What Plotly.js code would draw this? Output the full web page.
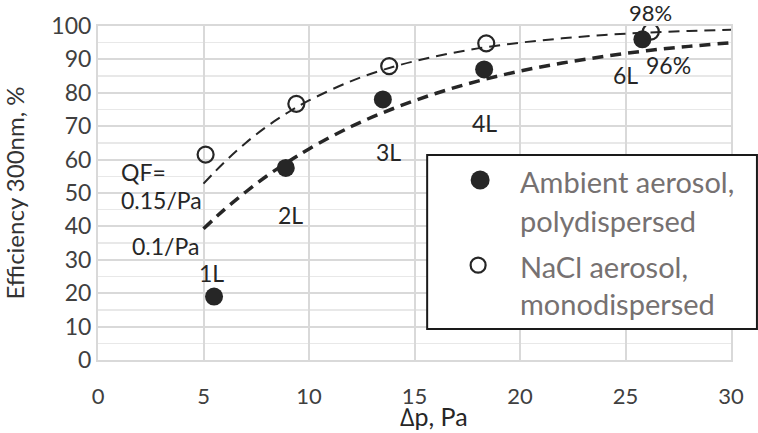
<!DOCTYPE html>
<html>
<head>
<meta charset="utf-8">
<script src="https://cdn.plot.ly/plotly-3.0.1.min.js"></script>
<style>html,body{margin:0;padding:0;background:#fff;}#chart{width:758px;height:433px;}</style>
</head>
<body>
<div id="chart"></div>
<script>
// Measured points
const ambientDp = [5.5, 8.9, 13.5, 18.3, 25.8];
const ambientEff = [19, 57.5, 78, 87, 96];
const ambientLabels = ["1L", "2L", "3L", "4L", "6L"];
const naclDp = [5.1, 9.4, 13.8, 18.4, 26.2];
const naclEff = [61.5, 76.7, 88, 94.8, 98.3];
// QF guide curves
const curveDp = [5, 6, 7, 8, 9, 10, 12, 14, 16, 18, 20, 22, 24, 26, 28, 30];
const curveQF015 = [52.8, 59.3, 65.0, 69.9, 74.1, 77.7, 83.5, 87.8, 90.9, 93.3, 95.0, 96.3, 97.3, 98.0, 98.5, 98.9];
const curveQF010 = [39.3, 45.1, 50.3, 55.1, 59.3, 63.2, 69.9, 75.3, 79.8, 83.5, 86.5, 88.9, 90.9, 92.6, 93.9, 95.0];
const xTicks = [0, 5, 10, 15, 20, 25, 30];
const yTicks = [0, 10, 20, 30, 40, 50, 60, 70, 80, 90, 100];
const legendNames = ["Ambient aerosol,", "polydispersed", "NaCl aerosol,", "monodispersed"];

const FONT = "Lato, 'Open Sans', sans-serif";
const INK = "#262626";

const traces = [
  {x: curveDp, y: curveQF015, mode: "lines", line: {color: INK, width: 2, dash: "11px,7px", shape: "spline"}, showlegend: false, hoverinfo: "skip"},
  {x: curveDp, y: curveQF010, mode: "lines", line: {color: INK, width: 3.5, dash: "11px,7px", shape: "spline"}, showlegend: false, hoverinfo: "skip"},
  {x: ambientDp, y: ambientEff, mode: "markers", name: "Ambient aerosol, polydispersed", marker: {symbol: "circle", size: 18, color: INK}, showlegend: false},
  {x: naclDp, y: naclEff, mode: "markers", name: "NaCl aerosol, monodispersed", marker: {symbol: "circle-open", size: 16, color: INK, line: {width: 2.2, color: INK}}, showlegend: false}
];

const lab = (x, y, t, extra) => Object.assign({x: x, y: y, xref: "x", yref: "y", text: t, showarrow: false, yanchor: "middle", font: {family: FONT, size: 23, color: INK}}, extra || {});

const annotations = [
  lab(1.0, 56.3, "QF=", {xanchor: "left"}),
  lab(1.0, 47.9, "0.15/Pa", {xanchor: "left"}),
  lab(1.5, 34.1, "0.1/Pa", {xanchor: "left"}),
  lab(5.39, 26.0, ambientLabels[0]),
  lab(9.12, 43.4, ambientLabels[1]),
  lab(13.76, 62.3, ambientLabels[2]),
  lab(18.3, 71.0, ambientLabels[3]),
  lab(24.98, 85.3, ambientLabels[4]),
  lab(27.06, 88.3, Math.round(ambientEff[4]) + "%"),
  {x: naclDp[4], y: 1.04, xref: "x", yref: "paper", yanchor: "middle", text: Math.round(naclEff[4]) + "%", showarrow: false, font: {family: FONT, size: 22, color: INK}},
  {x: 0.531, y: -0.168, xref: "paper", yref: "paper", yanchor: "middle", xanchor: "center", borderpad: 0, text: "\u2206p, Pa", showarrow: false, font: {family: FONT, size: 25, color: INK}},
];
const legY = [0.533, 0.419, 0.281, 0.168];
legendNames.forEach((t, i) => annotations.push({x: 0.663, y: legY[i], xref: "paper", yref: "paper", xanchor: "left", yanchor: "middle", text: t, showarrow: false, font: {family: FONT, size: 29, color: "#767171"}}));

const W = 633.3, H = 334;
const circ = (cx, cy, r, fill, lw) => ({type: "circle", xref: "paper", yref: "paper", x0: cx - r / W, x1: cx + r / W, y0: cy - r / H, y1: cy + r / H, fillcolor: fill, line: {color: INK, width: lw}, layer: "above"});

const shapes = [
  {type: "rect", xref: "paper", yref: "paper", x0: 0.52, x1: 1.041, y0: 0.0928, y1: 0.614, fillcolor: "#ffffff", line: {color: "#1a1a1a", width: 2}, layer: "above"},
  circ(0.6037, 0.539, 9.5, INK, 0),
  circ(0.6005, 0.284, 7.5, "rgba(0,0,0,0)", 2.2)
];

const layout = {
  width: 758, height: 433,
  margin: {l: 98, r: 27, t: 26, b: 73},
  paper_bgcolor: "#fff", plot_bgcolor: "#fff",
  showlegend: false,
  font: {family: FONT, color: "#404040"},
  xaxis: {range: [0, 30], tickvals: xTicks, ticks: "outside", ticklen: 16, tickcolor: "rgba(0,0,0,0)", showgrid: true, gridcolor: "#d9d9d9", gridwidth: 2, zeroline: false,
          showline: true, linecolor: "#d9d9d9", linewidth: 2, mirror: true, tickfont: {size: 22, color: "#404040", family: FONT}, fixedrange: true},
  yaxis: {range: [0, 100], tickvals: yTicks, ticks: "", ticksuffix: "\u2003", showgrid: true, gridcolor: "#d9d9d9", gridwidth: 2, zeroline: false,
          showline: true, linecolor: "#d9d9d9", linewidth: 2, mirror: true, tickfont: {size: 23, color: "#404040", family: FONT},
          minor: {dtick: 5, tick0: 5, showgrid: true, gridcolor: "#e8e8e8", gridwidth: 1.5, ticks: ""},
          title: {text: "Efficiency 300nm, %", font: {size: 24, color: "#333333", family: FONT}, standoff: 31}, automargin: false, fixedrange: true},
  annotations: annotations,
  shapes: shapes
};

Plotly.newPlot("chart", traces, layout, {staticPlot: true});
</script>
</body>
</html>
